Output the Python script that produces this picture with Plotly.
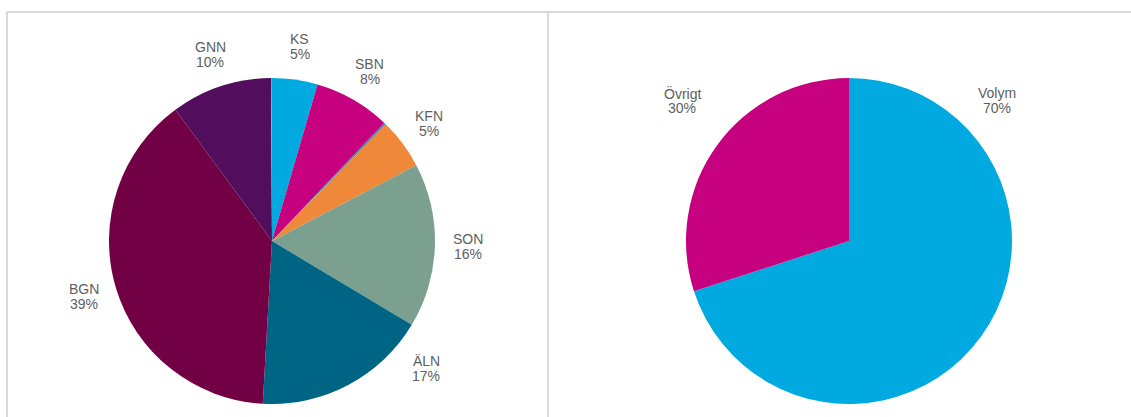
import numpy as np
import plotly.graph_objects as go

W, H = 1131, 417

# left pie: share per unit (two hairline slices carry no label)
units = ["KS", "SBN", "", "KFN", "SON", "ÄLN", "BGN", "GNN", ""]
unit_vals = [4.5, 7.6, 0.2, 5.0, 16.3, 17.3, 39.0, 10.0, 0.1]
unit_pct = ["5%", "8%", "", "5%", "16%", "17%", "39%", "10%", ""]
unit_cols = ["#00A9E0", "#C6007E", "#2E8FB0", "#F0883A", "#7BA08F",
             "#006485", "#720045", "#520E5C", "#9A9A9A"]

# right pie
kind = ["Volym", "Övrigt"]
kind_vals = [70, 30]
kind_pct = ["70%", "30%"]
kind_cols = ["#00A9E0", "#C6007E"]

R = 163
centers = [(272, 241), (849, 241)]
# label placement tweaks (angle in degrees clockwise from top, radial distance in px)
label_dist = 196
overrides = {"ÄLN": (129.5, 200), "Volym": (46.6, 204), "Övrigt": (310, 218)}
line_gap = 15
lab_font = dict(family="Liberation Sans, Arial", size=14, color="#606060")


def dom(cx, cy):
    return dict(x=[(cx - R) / W, (cx + R) / W], y=[1 - (cy + R) / H, 1 - (cy - R) / H])


def labels_for(names, vals, pcts, cx, cy):
    out = []
    tot = sum(vals)
    cum = np.cumsum([0] + list(vals))
    for i, n in enumerate(names):
        if not n:
            continue
        ang = (cum[i] + vals[i] / 2) / tot * 360
        d = label_dist
        if n in overrides:
            ang, d = overrides[n]
        a = np.radians(ang)
        x = cx + d * np.sin(a)
        y = cy - d * np.cos(a)
        for txt, sh in ((n, line_gap / 2), (pcts[i], -line_gap / 2)):
            out.append(dict(x=x / W, y=1 - y / H, xref="paper", yref="paper",
                            text=txt, showarrow=False, yshift=sh,
                            xanchor="center", yanchor="middle", font=lab_font))
    return out


fig = go.Figure()
fig.add_trace(go.Pie(labels=[u if u else f"_{i}" for i, u in enumerate(units)],
                     values=unit_vals, sort=False, direction="clockwise", rotation=0,
                     marker=dict(colors=unit_cols, line=dict(width=0)),
                     textinfo="none", hoverinfo="label+percent",
                     domain=dom(*centers[0]), showlegend=False))
fig.add_trace(go.Pie(labels=kind, values=kind_vals, sort=False, direction="clockwise",
                     rotation=0, marker=dict(colors=kind_cols, line=dict(width=0)),
                     textinfo="none", hoverinfo="label+percent",
                     domain=dom(*centers[1]), showlegend=False))

ann = labels_for(units, unit_vals, unit_pct, *centers[0])
ann += labels_for(kind, kind_vals, kind_pct, *centers[1])

border = "#D9D9D9"
shapes = [
    dict(type="line", xref="paper", yref="paper", x0=7 / W, x1=1, y0=1 - 12 / H, y1=1 - 12 / H,
         line=dict(color=border, width=2)),
    dict(type="line", xref="paper", yref="paper", x0=7 / W, x1=7 / W, y0=0, y1=1 - 12 / H,
         line=dict(color=border, width=2)),
    dict(type="line", xref="paper", yref="paper", x0=548 / W, x1=548 / W, y0=0, y1=1 - 12 / H,
         line=dict(color=border, width=2)),
]

fig.update_layout(width=W, height=H, margin=dict(l=0, r=0, t=0, b=0),
                  paper_bgcolor="white", plot_bgcolor="white",
                  annotations=ann, shapes=shapes)
fig.write_html("out.html", config={"displayModeBar": False},
               post_script="document.body.style.margin='0';")
